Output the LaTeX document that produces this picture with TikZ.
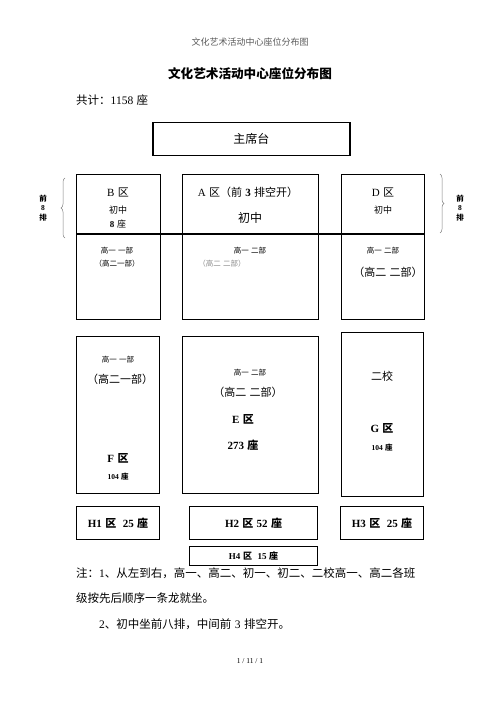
\documentclass[tikz,border=0pt]{standalone}
\usepackage{fontspec}
\setmainfont{Noto Sans CJK SC}
\newfontfamily\tnr{Liberation Serif}
\newcommand\en[1]{{\tnr #1}}
\newcommand\fs[1]{\fontsize{#1}{#1}\selectfont}
\newcommand\gap{\hspace{0.3em}}
\usetikzlibrary{decorations.pathreplacing}

\begin{document}
\begin{tikzpicture}[x=1pt,y=-1pt,
    box/.style={draw,line width=1.1pt,anchor=north west,inner sep=0pt},
    tiny/.style={font=\fs{7.5}},
    sml/.style={font=\fs{9}},
    mid/.style={font=\fs{11}},
    midb/.style={font=\fs{11}\bfseries},
    brc/.style={decorate,decoration={brace,amplitude=4pt},line width=0.5pt,gray}]
    \useasboundingbox (0,0) rectangle (500,708);
    % page head and title
    \node[font=\fs{9},text=black!65] (head) at (250,42) {文化艺术活动中心座位分布图};
    \node[font=\fs{12.6}\bfseries] (title) at (250,74) {文化艺术活动中心座位分布图};
    \node[font=\fs{11.5},anchor=west,inner sep=0pt] (total) at (76,100) {共计：\en{1158}\gap 座};
    % stage
    \node[box,line width=1.5pt,minimum width=197pt,minimum height=33pt] (stage) at (152,122) {};
    \node[font=\fs{12}] (stagelbl) at (stage.center) {主席台};
    % front blocks
    \node[box,minimum width=84pt,minimum height=145pt] (B) at (76,174) {};
    \node[box,minimum width=136pt,minimum height=145pt] (A) at (182,174) {};
    \node[box,minimum width=83pt,minimum height=145pt] (D) at (341,174) {};
    \coordinate (rowL) at (76,234);
    \coordinate (rowR) at (424,234);
    \draw[line width=1.5pt] (rowL) -- (rowR);
    \node[mid] (Bn) at (118,192) {\en{B}\gap 区};
    \node[sml] (Bj) at (118,210) {初中};
    \node[sml] (Bs) at (118,224) {\en{\bfseries 8}\gap 座};
    \node[mid] (An) at (248,192) {\en{A}\gap 区（前\gap\en{\bfseries 3}\gap 排空开）};
    \node[font=\fs{12}] (Aj) at (250,218) {初中};
    \node[mid] (Dn) at (383,192) {\en{D}\gap 区};
    \node[sml] (Dj) at (383,210) {初中};
    \node[tiny] (Bg1) at (117,251) {高一\gap 一部};
    \node[tiny] (Bg2) at (117,264) {（高二一部）};
    \node[tiny] (Ag1) at (250,251) {高一\gap 二部};
    \node[tiny,text=black!45] (Ag2) at (222,264) {（高二\gap 二部）};
    \node[tiny] (Dg1) at (383,251) {高一\gap 二部};
    \node[mid] (Dg2) at (388,272) {（高二\gap 二部）};
    % braces for the first 8 rows
    \coordinate (lbT) at (65,178);
    \coordinate (lbB) at (65,238);
    \draw[brc] (lbB) -- (lbT);
    \node[font=\fs{7.5}\bfseries,align=center] (lbl) at (43,208) {前\\[2pt]\en{8}\\[2pt]排};
    \coordinate (rbT) at (440,174);
    \coordinate (rbB) at (440,233);
    \draw[brc] (rbT) -- (rbB);
    \node[font=\fs{7.5}\bfseries,align=center] (rbl) at (460,208) {前\\[2pt]\en{8}\\[2pt]排};
    % back blocks
    \node[box,minimum width=83pt,minimum height=157pt] (F) at (76,336) {};
    \node[box,minimum width=136pt,minimum height=157pt] (E) at (182,336) {};
    \node[box,minimum width=82pt,minimum height=164pt] (G) at (341,332) {};
    \node[tiny] (Fg1) at (118,360) {高一\gap 一部};
    \node[mid] (Fg2) at (120,379) {（高二一部）};
    \node[midb] (Fn) at (118,458) {\en{F}\gap 区};
    \node[font=\fs{7.5}\bfseries] (Fs) at (118,477) {\en{104}\gap 座};
    \node[tiny] (Eg1) at (250,373) {高一\gap 二部};
    \node[mid] (Eg2) at (248,392) {（高二\gap 二部）};
    \node[midb] (En) at (243,419) {\en{E}\gap 区};
    \node[midb] (Es) at (243,445) {\en{273}\gap 座};
    \node[mid] (Gx) at (382,376) {二校};
    \node[midb] (Gn) at (382,428) {\en{G}\gap 区};
    \node[font=\fs{7.5}\bfseries] (Gs) at (382,448) {\en{104}\gap 座};
    % rear rows
    \node[box,minimum width=83pt,minimum height=33pt] (H1) at (76,506) {};
    \node[box,minimum width=128pt,minimum height=33pt] (H2) at (189,506) {};
    \node[box,minimum width=83pt,minimum height=33pt] (H3) at (340,506) {};
    \node[box,minimum width=128pt,minimum height=19pt] (H4) at (189,546) {};
    \node[midb] (H1l) at (H1.center) {\en{H1}\gap 区\gap\gap\en{25}\gap 座};
    \node[midb] (H2l) at (H2.center) {\en{H2}\gap 区\gap\en{52}\gap 座};
    \node[midb] (H3l) at (H3.center) {\en{H3}\gap 区\gap\gap\en{25}\gap 座};
    \node[font=\fs{9}\bfseries] (H4l) at (H4.center) {\en{H4}\gap 区\gap\gap\en{15}\gap 座};
    % notes
    \node[font=\fs{11.5},anchor=west,inner sep=0pt] (note1) at (76,573) {注：\en{1}、从左到右，高一、高二、初一、初二、二校高一、高二各班};
    \node[font=\fs{11.5},anchor=west,inner sep=0pt] (note2) at (76,598) {级按先后顺序一条龙就坐。};
    \node[font=\fs{11.5},anchor=west,inner sep=0pt] (note3) at (99,624) {\en{2}、初中坐前八排，中间前\gap\en{3}\gap 排空开。};
    \node[font=\fs{7.5}] (page) at (250,661) {\en{1 / 11 / 1}};
\end{tikzpicture}
\end{document}
